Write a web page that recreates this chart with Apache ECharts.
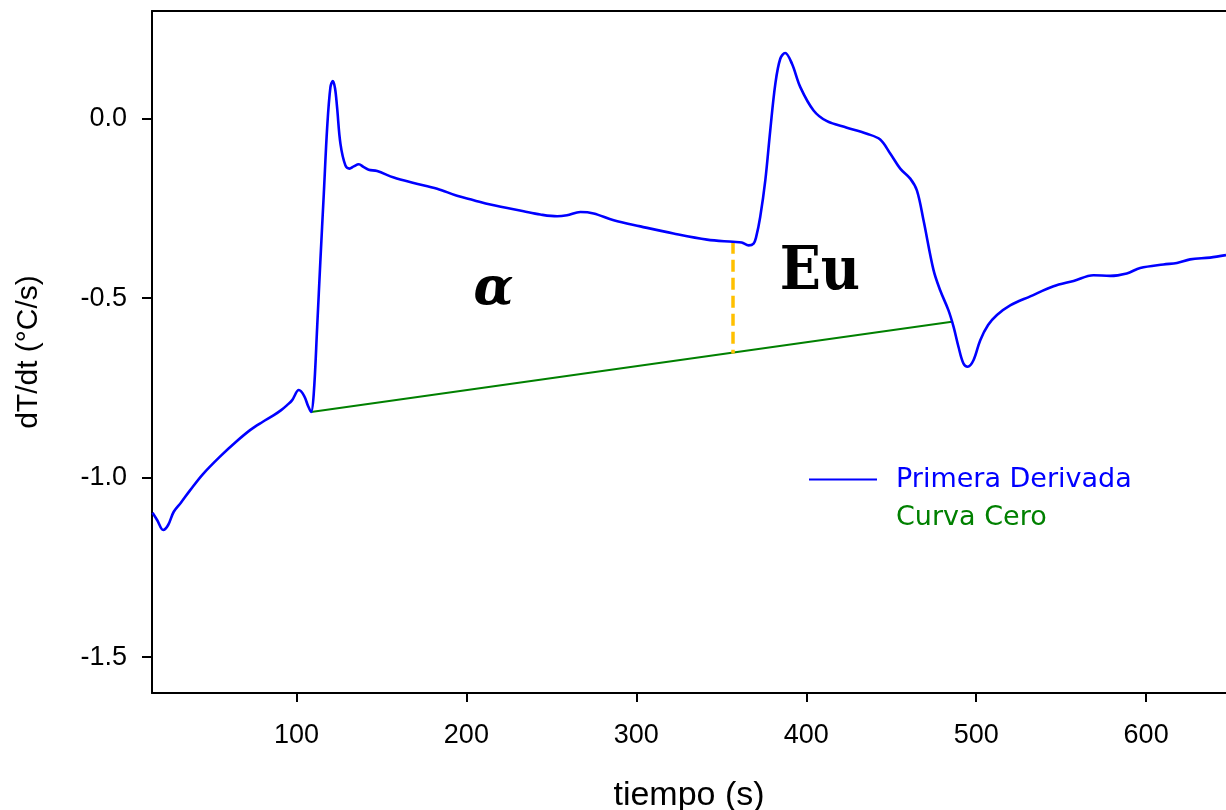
<!DOCTYPE html>
<html>
<head>
<meta charset="utf-8">
<script src="https://cdn.jsdelivr.net/npm/echarts@6/dist/echarts.min.js"></script>
<style>
  html, body { margin: 0; padding: 0; background: #ffffff; }
  #chart { width: 1226px; height: 810px; }
</style>
</head>
<body>
<div id="chart"></div>
<script>
// First derivative of the cooling curve: time (s) and dT/dt (°C/s)
const tiempo = [
  15.3, 18, 21.6, 24.5, 27.8, 32, 37.6, 45, 55.3, 64, 72.9, 80, 86.7, 91, 94.5, 97.5,
  101.4, 104.5, 106.8, 108.6, 110.2, 112.2, 114.1, 116.1, 118.1, 120, 121.4, 122.7,
  123.9, 125.9, 128.8, 131.2, 133.7, 136.7, 139.6, 142.5, 147.5, 157.3, 169, 182.8,
  194.5, 204.3, 214.1, 233.7, 243.5, 253.4, 259.2, 267.1, 274.9, 286.7, 302.4, 321.9,
  341.6, 356.9, 362, 366.1, 369, 370.5, 372.9, 375.9, 378.8, 381.8, 384.7, 387.6,
  391.6, 396.5, 404.3, 412.2, 423.9, 435.7, 443.5, 449.4, 455.3, 461.2, 465.1, 469,
  474.9, 478.8, 483.7, 486.7, 489.6, 492.5, 495, 498.4, 502.4, 507, 512.2, 520,
  531.8, 545.5, 557.3, 569, 578.8, 588.6, 596.5, 610.2, 618.1, 625.9, 637.6, 647
];
const primeraDerivada = [
  -1.098, -1.118, -1.146, -1.132, -1.095, -1.07, -1.034, -0.99, -0.94, -0.902, -0.867, -0.845, -0.826, -0.812, -0.798, -0.784,
  -0.756, -0.772, -0.8, -0.817, -0.765, -0.58, -0.394, -0.209, -0.023, 0.088, 0.105, 0.085,
  0.032, -0.07, -0.13, -0.139, -0.133, -0.127, -0.135, -0.142, -0.146, -0.164, -0.179, -0.195,
  -0.215, -0.227, -0.239, -0.258, -0.267, -0.272, -0.269, -0.26, -0.264, -0.283, -0.3, -0.32,
  -0.337, -0.343, -0.345, -0.353, -0.348, -0.33, -0.274, -0.172, -0.033, 0.097, 0.167, 0.183,
  0.153, 0.088, 0.023, -0.007, -0.025, -0.042, -0.058, -0.097, -0.139, -0.167, -0.2, -0.283,
  -0.422, -0.478, -0.534, -0.58, -0.636, -0.682, -0.691, -0.673, -0.617, -0.575, -0.547, -0.52,
  -0.495, -0.467, -0.452, -0.436, -0.438, -0.431, -0.416, -0.406, -0.402, -0.392, -0.387, -0.38
];

// Zero curve (baseline) between the start and end of solidification
const curvaCeroT = [108.6, 485.7];
const curvaCeroV = [-0.817, -0.566];

// Boundary between the alpha and eutectic regions
const limiteT = [356.9, 356.9];
const limiteV = [-0.343, -0.654];

// Region labels
const regionNombres = ['\u03B1', 'Eu'];
const regionT = [216, 408];
const regionV = [-0.478, -0.43];

// Axis ticks
const xTicks = [100, 200, 300, 400, 500, 600];
const yTicks = [-1.5, -1.0, -0.5, 0.0];

const zip = (a, b) => a.map((v, i) => [v, b[i]]);

const chart = echarts.init(document.getElementById('chart'), null, { renderer: 'canvas' });

const axisLineStyle = { color: '#000000', width: 2 };
const tickFont = { color: '#000000', fontFamily: 'Liberation Sans, Arial, sans-serif', fontSize: 27 };

chart.setOption({
  animation: false,
  backgroundColor: '#ffffff',
  grid: { left: 152, right: 0, top: 11, bottom: 117, containLabel: false, outerBoundsMode: 'none' },
  xAxis: [
    {
      type: 'value', min: 15, max: 647, position: 'bottom',
      name: 'tiempo (s)', nameLocation: 'middle', nameGap: 86,
      nameTextStyle: { color: '#000000', fontFamily: 'Liberation Sans, Arial, sans-serif', fontSize: 34 },
      axisLine: { show: true, onZero: false, lineStyle: axisLineStyle },
      axisTick: { show: true, inside: false, length: 9, customValues: xTicks, lineStyle: axisLineStyle },
      axisLabel: { show: true, margin: 29, customValues: xTicks, formatter: v => String(v), ...tickFont },
      splitLine: { show: false }
    },
    {
      type: 'value', min: 15, max: 647, position: 'top',
      axisLine: { show: true, onZero: false, lineStyle: axisLineStyle },
      axisTick: { show: false }, axisLabel: { show: false }, splitLine: { show: false }
    }
  ],
  yAxis: {
    type: 'value', min: -1.6, max: 0.3,
    name: 'dT/dt (\u00B0C/s)', nameLocation: 'middle', nameGap: 108,
    nameTextStyle: { color: '#000000', fontFamily: 'Liberation Sans, Arial, sans-serif', fontSize: 30 },
    axisLine: { show: true, onZero: false, lineStyle: axisLineStyle },
    axisTick: { show: true, inside: false, length: 10, customValues: yTicks, lineStyle: axisLineStyle },
    axisLabel: { show: true, margin: 25, customValues: yTicks, formatter: v => v.toFixed(1), ...tickFont },
    splitLine: { show: false }
  },
  legend: {
    orient: 'vertical', left: 804, top: 461,
    itemWidth: 68, itemHeight: 2, itemGap: 11,
    textStyle: { fontFamily: 'DejaVu Sans, Verdana, sans-serif', fontSize: 27, padding: [0, 0, 0, 14] },
    data: [
      { name: 'Primera Derivada', icon: 'rect', textStyle: { color: '#0000ff' } },
      { name: 'Curva Cero', icon: 'rect', itemStyle: { opacity: 0 }, textStyle: { color: '#008000' } }
    ]
  },
  series: [
    {
      name: 'Primera Derivada', type: 'line', data: zip(tiempo, primeraDerivada),
      smooth: 0.35, showSymbol: false, symbol: 'none',
      lineStyle: { color: '#0000ff', width: 2.6 }, itemStyle: { color: '#0000ff' }, z: 3
    },
    {
      name: 'Curva Cero', type: 'line', data: zip(curvaCeroT, curvaCeroV),
      showSymbol: false, symbol: 'none',
      lineStyle: { color: '#008000', width: 2 }, itemStyle: { color: '#008000' }, z: 2
    },
    {
      name: 'limite', type: 'line', data: zip(limiteT, limiteV),
      showSymbol: false, symbol: 'none',
      lineStyle: { color: '#ffc000', width: 3.5, type: [12, 6] }, z: 2
    },
    {
      name: 'regiones', type: 'scatter', symbolSize: 0,
      itemStyle: { color: '#000000' },
      data: regionT.map((t, i) => ({
        value: [t, regionV[i]],
        label: {
          show: true, position: [0, 0], align: 'center', verticalAlign: 'middle',
          formatter: regionNombres[i],
          color: '#000000', opacity: 1, textBorderWidth: 0,
          fontWeight: 'bold',
          fontStyle: i === 0 ? 'italic' : 'normal',
          fontFamily: i === 0 ? 'DejaVu Serif, serif' : 'DejaVu Serif Condensed, DejaVu Serif, serif',
          fontSize: i === 0 ? 52 : 60
        }
      })),
      z: 4
    }
  ]
});
</script>
</body>
</html>
